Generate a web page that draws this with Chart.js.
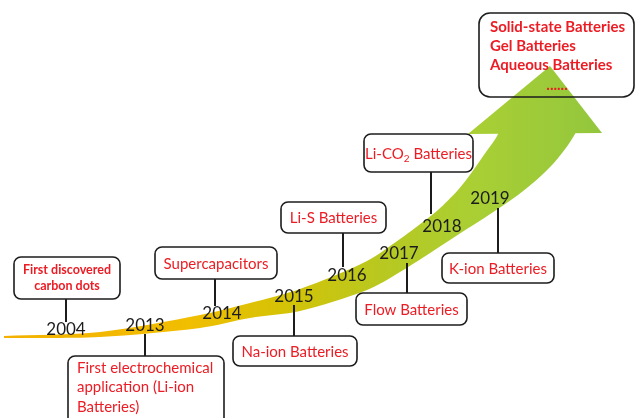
<!DOCTYPE html>
<html>
<head>
<title>Carbon dots in energy storage - timeline</title>
<script src="https://cdn.jsdelivr.net/npm/chart.js"></script>
<style>
html, body { margin: 0; padding: 0; background: #fff; }
</style>
</head>
<body>
<canvas id="myChart" width="635" height="418"></canvas>
<script>
// timeline content
const years = ['2004', '2013', '2014', '2015', '2016', '2017', '2018', '2019'];
const events = [
    ['First discovered', 'carbon dots'],
    ['First electrochemical', 'application (Li-ion', 'Batteries)'],
    ['Supercapacitors'],
    ['Na-ion Batteries'],
    ['Li-S Batteries'],
    ['Flow Batteries'],
    ['Li-CO₂ Batteries'],
    ['K-ion Batteries']
];
const outlook = ['Solid-state Batteries', 'Gel Batteries', 'Aqueous Batteries'];

// layout, in axis units (0..635 across, 0..418 down)
const yearSpots = [[66, 330], [145, 326], [222, 314], [294, 297], [347, 276], [399, 254], [442, 227], [490, 199]];
const boxRects = [[14, 257, 120, 299], [68, 356, 224, 425], [155, 247, 277, 279], [233, 336, 357, 366],
                  [281, 202, 386, 233], [356, 293, 467, 325], [364, 134, 473, 172], [442, 253, 554, 283]];
const stems = [[66, 299, 322], [145, 334, 356], [215, 279, 306], [294, 305, 336],
               [343, 233, 267], [407, 263, 293], [431, 172, 214], [498, 208, 253]];
const outlookRect = [479, 13, 634, 97];

// arrow outline: lower edge left->right, then upper edge back (top end hidden under the head)
const arrowBody = [[4, 338], [100, 337], [200, 328], [250, 318], [300, 311], [367, 290], [400, 272], [450, 240],
                   [518, 195], [552, 165], [575, 134], [575, 124],
                   [498, 124], [498, 134], [486, 152], [472, 172], [458, 190], [438, 210], [415, 228], [400, 239],
                   [367, 261], [300, 289], [250, 303], [200, 315], [100, 332], [4, 336]];
const arrowHead = [[468, 134], [550, 66], [602, 133]];

const RED = '#ec1c24';
const INK = '#1c1c1c';

function roundRect(ctx, x, y, w, h, r) {
    ctx.beginPath();
    ctx.moveTo(x + r, y);
    ctx.arcTo(x + w, y, x + w, y + h, r);
    ctx.arcTo(x + w, y + h, x, y + h, r);
    ctx.arcTo(x, y + h, x, y, r);
    ctx.arcTo(x, y, x + w, y, r);
    ctx.closePath();
}

// draws text, turning "₂" into a small lowered 2
function richText(ctx, text, x, y, align, size, weight) {
    const parts = text.split('₂');
    const big = weight + ' ' + size + 'px Lato';
    const small = weight + ' ' + Math.round(size * 0.65) + 'px Lato';
    let w = 0;
    parts.forEach((p, i) => {
        ctx.font = big; w += ctx.measureText(p).width;
        if (i < parts.length - 1) { ctx.font = small; w += ctx.measureText('2').width; }
    });
    let cx = align === 'center' ? x - w / 2 : x;
    ctx.textAlign = 'left';
    parts.forEach((p, i) => {
        ctx.font = big; ctx.fillText(p, cx, y); cx += ctx.measureText(p).width;
        if (i < parts.length - 1) {
            ctx.font = small; ctx.fillText('2', cx, y + size * 0.3); cx += ctx.measureText('2').width;
        }
    });
}

const timelinePlugin = {
    id: 'timeline',
    beforeDatasetsDraw(chart) {
        const ctx = chart.ctx, area = chart.chartArea;
        const xs = chart.scales.x;
        const g = ctx.createLinearGradient(xs.getPixelForValue(0), 0, xs.getPixelForValue(635), 0);
        g.addColorStop(0, '#f4b100');
        g.addColorStop(0.3, '#f1be00');
        g.addColorStop(0.45, '#d4c306');
        g.addColorStop(0.6, '#b8c820');
        g.addColorStop(0.75, '#a9cf34');
        g.addColorStop(1, '#8dc440');
        const body = chart.getDatasetMeta(0).dataset;
        body.updateControlPoints(area, 'x');
        ctx.save();
        ctx.fillStyle = g;
        ctx.beginPath();
        body.path(ctx);
        ctx.closePath();
        ctx.fill();
        const head = chart.getDatasetMeta(1).data;
        ctx.beginPath();
        head.forEach((p, i) => i ? ctx.lineTo(p.x, p.y) : ctx.moveTo(p.x, p.y));
        ctx.closePath();
        ctx.fill();
        ctx.restore();
    },
    afterDatasetsDraw(chart) {
        const ctx = chart.ctx;
        const xs = chart.scales.x, ys = chart.scales.y;
        const px = v => xs.getPixelForValue(v), py = v => ys.getPixelForValue(v);
        ctx.save();
        ctx.textBaseline = 'middle';

        // stems
        ctx.strokeStyle = INK;
        ctx.lineWidth = 2;
        stems.forEach(s => {
            ctx.beginPath();
            ctx.moveTo(px(s[0]), py(s[1]));
            ctx.lineTo(px(s[0]), py(s[2]));
            ctx.stroke();
        });

        // event boxes
        events.forEach((lines, i) => {
            const [l, t, r, b] = boxRects[i];
            const x0 = px(l), y0 = py(t), w = px(r) - x0, h = py(b) - y0;
            roundRect(ctx, x0, y0, w, h, 7);
            ctx.fillStyle = '#fff';
            ctx.fill();
            ctx.lineWidth = 1.6;
            ctx.strokeStyle = INK;
            ctx.stroke();
            ctx.fillStyle = RED;
            if (i === 0) {
                lines.forEach((s, k) => richText(ctx, s, x0 + w / 2, y0 + h / 2 + (k - 0.5) * 16, 'center', 12.5, 'bold'));
            } else if (i === 1) {
                lines.forEach((s, k) => richText(ctx, s, x0 + 9, y0 + 12 + k * 19.5, 'left', 15, 'normal'));
            } else {
                lines.forEach(s => richText(ctx, s, x0 + w / 2, y0 + h / 2 + 1, 'center', 15, 'normal'));
            }
        });

        // outlook box (open, arrow shows through)
        const [l, t, r, b] = outlookRect;
        roundRect(ctx, px(l), py(t), px(r) - px(l), py(b) - py(t), 11);
        ctx.lineWidth = 1.6;
        ctx.strokeStyle = INK;
        ctx.stroke();
        ctx.fillStyle = RED;
        outlook.forEach((s, k) => richText(ctx, s, px(l) + 11, py(t) + 14 + k * 19, 'left', 15, 'bold'));
        richText(ctx, '......', px(l) + 78, py(t) + 72, 'center', 15, 'bold');

        // years
        const pts = chart.getDatasetMeta(2).data;
        ctx.fillStyle = INK;
        ctx.font = '17px Lato';
        ctx.textAlign = 'center';
        pts.forEach((p, i) => ctx.fillText(years[i], p.x, p.y));
        ctx.restore();
    }
};

const toPoints = arr => arr.map(p => ({ x: p[0], y: p[1] }));

const ctx = document.getElementById('myChart').getContext('2d');
const myChart = new Chart(ctx, {
    type: 'scatter',
    data: {
        datasets: [
            { label: 'arrow', data: toPoints(arrowBody), showLine: true, tension: 0.3,
              borderWidth: 0, borderColor: 'transparent', pointRadius: 0 },
            { label: 'head', data: toPoints(arrowHead), showLine: false,
              borderWidth: 0, borderColor: 'transparent', pointRadius: 0 },
            { label: 'years', data: toPoints(yearSpots), showLine: false, pointRadius: 0 }
        ]
    },
    options: {
        responsive: false,
        animation: false,
        layout: { padding: 0 },
        plugins: { legend: { display: false }, tooltip: { enabled: false } },
        scales: {
            x: { type: 'linear', min: 0, max: 635, display: false },
            y: { type: 'linear', min: 0, max: 418, reverse: true, display: false }
        }
    },
    plugins: [timelinePlugin]
});
</script>
</body>
</html>
